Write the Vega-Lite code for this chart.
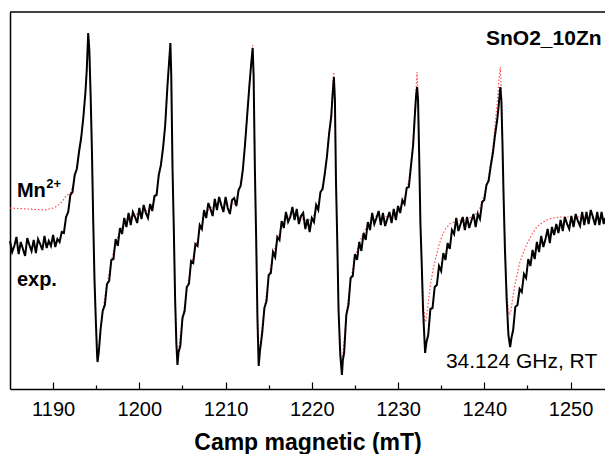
{
"$schema": "https://vega.github.io/schema/vega-lite/v6.json",
"width": 595, "height": 377,
"autosize": {"type": "none"},
"padding": {"left": 10, "top": 12, "right": 0, "bottom": 65},
"config": {"view": {"stroke": null}, "font": "Liberation Sans", "axis": {"grid": false}},
"datasets": {
"exp": [
{"B":1185,"I":-26},{"B":1185.25,"I":-37},{"B":1185.5,"I":-31},{"B":1185.75,"I":-22},{"B":1186,"I":-39},{"B":1186.25,"I":-27},{"B":1186.5,"I":-34},{"B":1186.75,"I":-41},{"B":1187,"I":-23},{"B":1187.25,"I":-30},{"B":1187.5,"I":-36},{"B":1187.75,"I":-25},{"B":1188,"I":-38},{"B":1188.25,"I":-24},{"B":1188.5,"I":-29},{"B":1188.75,"I":-35},{"B":1189,"I":-21},{"B":1189.25,"I":-33},{"B":1189.5,"I":-26},{"B":1189.75,"I":-31},{"B":1190,"I":-20},{"B":1190.25,"I":-32},{"B":1190.5,"I":-24},{"B":1190.75,"I":-27},{"B":1191,"I":-17},{"B":1191.25,"I":-18},{"B":1191.5,"I":-2},{"B":1191.75,"I":3},{"B":1192,"I":20},{"B":1192.25,"I":23},{"B":1192.5,"I":40},{"B":1192.75,"I":46},{"B":1193,"I":63},{"B":1193.25,"I":77},{"B":1193.5,"I":97},{"B":1193.75,"I":123},{"B":1193.9,"I":145},{"B":1194.07,"I":182},{"B":1194.2,"I":165},{"B":1194.35,"I":120},{"B":1194.5,"I":65},{"B":1194.65,"I":-5},{"B":1194.8,"I":-65},{"B":1194.95,"I":-105},{"B":1195.1,"I":-140},{"B":1195.15,"I":-147},{"B":1195.3,"I":-137},{"B":1195.5,"I":-115},{"B":1195.75,"I":-96},{"B":1196,"I":-90},{"B":1196.25,"I":-69},{"B":1196.5,"I":-66},{"B":1196.75,"I":-45},{"B":1197,"I":-44},{"B":1197.25,"I":-24},{"B":1197.5,"I":-31},{"B":1197.75,"I":-13},{"B":1198,"I":-19},{"B":1198.25,"I":-3},{"B":1198.5,"I":-12},{"B":1198.75,"I":2},{"B":1199,"I":-10},{"B":1199.25,"I":3},{"B":1199.5,"I":-2},{"B":1199.75,"I":-8},{"B":1200,"I":7},{"B":1200.25,"I":-4},{"B":1200.5,"I":10},{"B":1200.75,"I":2},{"B":1201,"I":-3},{"B":1201.25,"I":11},{"B":1201.5,"I":4},{"B":1201.75,"I":19},{"B":1202,"I":20},{"B":1202.25,"I":40},{"B":1202.5,"I":50},{"B":1202.75,"I":67},{"B":1203,"I":90},{"B":1203.25,"I":128},{"B":1203.45,"I":153},{"B":1203.6,"I":172},{"B":1203.7,"I":140},{"B":1203.85,"I":45},{"B":1204,"I":-15},{"B":1204.15,"I":-85},{"B":1204.3,"I":-130},{"B":1204.42,"I":-150},{"B":1204.55,"I":-137},{"B":1204.75,"I":-131},{"B":1205,"I":-103},{"B":1205.25,"I":-96},{"B":1205.5,"I":-72},{"B":1205.75,"I":-69},{"B":1206,"I":-46},{"B":1206.25,"I":-48},{"B":1206.5,"I":-29},{"B":1206.75,"I":-31},{"B":1207,"I":-10},{"B":1207.25,"I":-14},{"B":1207.5,"I":5},{"B":1207.75,"I":-3},{"B":1208,"I":12},{"B":1208.25,"I":6},{"B":1208.5,"I":-1},{"B":1208.75,"I":16},{"B":1209,"I":5},{"B":1209.25,"I":18},{"B":1209.5,"I":10},{"B":1209.75,"I":3},{"B":1210,"I":18},{"B":1210.25,"I":7},{"B":1210.5,"I":1},{"B":1210.75,"I":15},{"B":1211,"I":17},{"B":1211.25,"I":9},{"B":1211.5,"I":25},{"B":1211.75,"I":29},{"B":1212,"I":45},{"B":1212.25,"I":70},{"B":1212.5,"I":99},{"B":1212.75,"I":128},{"B":1212.95,"I":149},{"B":1213.14,"I":167},{"B":1213.25,"I":140},{"B":1213.4,"I":45},{"B":1213.55,"I":-25},{"B":1213.7,"I":-105},{"B":1213.84,"I":-151},{"B":1214,"I":-135},{"B":1214.25,"I":-118},{"B":1214.5,"I":-93},{"B":1214.75,"I":-86},{"B":1215,"I":-60},{"B":1215.25,"I":-58},{"B":1215.5,"I":-37},{"B":1215.75,"I":-42},{"B":1216,"I":-22},{"B":1216.25,"I":-25},{"B":1216.5,"I":-6},{"B":1216.75,"I":-13},{"B":1217,"I":3},{"B":1217.25,"I":-7},{"B":1217.5,"I":-2},{"B":1217.75,"I":8},{"B":1218,"I":-5},{"B":1218.25,"I":6},{"B":1218.5,"I":-9},{"B":1218.75,"I":-1},{"B":1219,"I":2},{"B":1219.25,"I":-14},{"B":1219.5,"I":-4},{"B":1219.75,"I":-17},{"B":1220,"I":-3},{"B":1220.25,"I":-7},{"B":1220.5,"I":10},{"B":1220.75,"I":5},{"B":1221,"I":23},{"B":1221.25,"I":26},{"B":1221.5,"I":41},{"B":1221.75,"I":58},{"B":1222,"I":81},{"B":1222.25,"I":98},{"B":1222.4,"I":119},{"B":1222.56,"I":138},{"B":1222.68,"I":115},{"B":1222.8,"I":35},{"B":1222.95,"I":-25},{"B":1223.1,"I":-95},{"B":1223.3,"I":-140},{"B":1223.49,"I":-160},{"B":1223.6,"I":-145},{"B":1223.75,"I":-138},{"B":1224,"I":-100},{"B":1224.25,"I":-90},{"B":1224.5,"I":-63},{"B":1224.75,"I":-61},{"B":1225,"I":-39},{"B":1225.25,"I":-45},{"B":1225.5,"I":-27},{"B":1225.75,"I":-36},{"B":1226,"I":-18},{"B":1226.25,"I":-25},{"B":1226.5,"I":-7},{"B":1226.75,"I":-15},{"B":1227,"I":2},{"B":1227.25,"I":-9},{"B":1227.5,"I":-3},{"B":1227.75,"I":4},{"B":1228,"I":-10},{"B":1228.25,"I":2},{"B":1228.5,"I":-11},{"B":1228.75,"I":-4},{"B":1229,"I":3},{"B":1229.25,"I":-8},{"B":1229.5,"I":6},{"B":1229.75,"I":-5},{"B":1230,"I":9},{"B":1230.25,"I":2},{"B":1230.5,"I":15},{"B":1230.75,"I":11},{"B":1231,"I":27},{"B":1231.25,"I":28},{"B":1231.5,"I":49},{"B":1231.75,"I":70},{"B":1231.95,"I":100},{"B":1232.1,"I":120},{"B":1232.21,"I":128},{"B":1232.32,"I":115},{"B":1232.45,"I":60},{"B":1232.6,"I":-10},{"B":1232.75,"I":-50},{"B":1232.9,"I":-95},{"B":1233.14,"I":-138},{"B":1233.3,"I":-127},{"B":1233.5,"I":-120},{"B":1233.75,"I":-94},{"B":1234,"I":-93},{"B":1234.25,"I":-72},{"B":1234.5,"I":-70},{"B":1234.75,"I":-51},{"B":1235,"I":-56},{"B":1235.25,"I":-38},{"B":1235.5,"I":-45},{"B":1235.75,"I":-28},{"B":1236,"I":-34},{"B":1236.25,"I":-15},{"B":1236.5,"I":-19},{"B":1236.75,"I":-3},{"B":1237,"I":-16},{"B":1237.25,"I":-9},{"B":1237.5,"I":-2},{"B":1237.75,"I":-15},{"B":1238,"I":-2},{"B":1238.25,"I":-13},{"B":1238.5,"I":-6},{"B":1238.75,"I":1},{"B":1239,"I":-12},{"B":1239.25,"I":1},{"B":1239.5,"I":-4},{"B":1239.75,"I":13},{"B":1240,"I":15},{"B":1240.25,"I":30},{"B":1240.5,"I":34},{"B":1240.75,"I":49},{"B":1241,"I":62},{"B":1241.25,"I":80},{"B":1241.5,"I":95},{"B":1241.7,"I":112},{"B":1241.86,"I":128},{"B":1241.98,"I":115},{"B":1242.1,"I":75},{"B":1242.25,"I":15},{"B":1242.4,"I":-35},{"B":1242.6,"I":-85},{"B":1242.8,"I":-120},{"B":1243,"I":-132},{"B":1243.15,"I":-123},{"B":1243.35,"I":-115},{"B":1243.6,"I":-92},{"B":1243.85,"I":-90},{"B":1244.1,"I":-74},{"B":1244.35,"I":-77},{"B":1244.6,"I":-59},{"B":1244.85,"I":-63},{"B":1245.1,"I":-44},{"B":1245.35,"I":-51},{"B":1245.6,"I":-35},{"B":1245.85,"I":-44},{"B":1246.1,"I":-27},{"B":1246.35,"I":-37},{"B":1246.6,"I":-21},{"B":1246.85,"I":-32},{"B":1247.1,"I":-24},{"B":1247.35,"I":-14},{"B":1247.6,"I":-28},{"B":1247.85,"I":-12},{"B":1248.1,"I":-20},{"B":1248.35,"I":-9},{"B":1248.6,"I":-18},{"B":1248.85,"I":-5},{"B":1249.1,"I":-16},{"B":1249.35,"I":-2},{"B":1249.6,"I":-9},{"B":1249.85,"I":-14},{"B":1250.1,"I":-1},{"B":1250.35,"I":-12},{"B":1250.6,"I":1},{"B":1250.85,"I":-6},{"B":1251.1,"I":-11},{"B":1251.35,"I":3},{"B":1251.6,"I":-10},{"B":1251.85,"I":3},{"B":1252.1,"I":-9},{"B":1252.35,"I":5},{"B":1252.6,"I":-2},{"B":1252.85,"I":-10},{"B":1253.1,"I":3},{"B":1253.35,"I":-10},{"B":1253.6,"I":3},{"B":1253.85,"I":-9},{"B":1254,"I":-3}
],
"sim": [
{"B":1185,"I":7},{"B":1187,"I":6},{"B":1189,"I":5},{"B":1190,"I":7},{"B":1190.5,"I":9},{"B":1191,"I":13},{"B":1191.5,"I":19},{"B":1192,"I":22},{"B":1192.25,"I":28},{"B":1192.5,"I":37},{"B":1192.75,"I":48},{"B":1193,"I":61},{"B":1193.25,"I":77},{"B":1193.5,"I":97},{"B":1193.75,"I":123},{"B":1193.9,"I":145},{"B":1194.07,"I":182},{"B":1194.2,"I":165},{"B":1194.35,"I":120},{"B":1194.5,"I":65},{"B":1194.65,"I":-5},{"B":1194.8,"I":-65},{"B":1194.95,"I":-105},{"B":1195.1,"I":-135},{"B":1195.2,"I":-138},{"B":1195.35,"I":-128},{"B":1195.5,"I":-112},{"B":1195.75,"I":-97},{"B":1196,"I":-82},{"B":1196.5,"I":-58},{"B":1197,"I":-36},{"B":1197.5,"I":-22},{"B":1198,"I":-12},{"B":1198.5,"I":-5},{"B":1199,"I":-2},{"B":1199.5,"I":0},{"B":1200,"I":2},{"B":1200.5,"I":3},{"B":1201,"I":5},{"B":1201.5,"I":9},{"B":1201.75,"I":14},{"B":1202,"I":23},{"B":1202.25,"I":37},{"B":1202.5,"I":52},{"B":1202.75,"I":67},{"B":1203,"I":90},{"B":1203.25,"I":128},{"B":1203.45,"I":153},{"B":1203.6,"I":172},{"B":1203.7,"I":140},{"B":1203.85,"I":45},{"B":1204,"I":-15},{"B":1204.15,"I":-85},{"B":1204.3,"I":-128},{"B":1204.45,"I":-142},{"B":1204.6,"I":-132},{"B":1204.75,"I":-121},{"B":1205,"I":-105},{"B":1205.5,"I":-76},{"B":1206,"I":-50},{"B":1206.5,"I":-33},{"B":1207,"I":-16},{"B":1207.5,"I":-3},{"B":1208,"I":5},{"B":1208.5,"I":9},{"B":1209,"I":11},{"B":1209.5,"I":11},{"B":1210,"I":10},{"B":1210.5,"I":10},{"B":1211,"I":11},{"B":1211.25,"I":15},{"B":1211.5,"I":22},{"B":1211.75,"I":33},{"B":1212,"I":46},{"B":1212.25,"I":71},{"B":1212.5,"I":100},{"B":1212.75,"I":130},{"B":1212.95,"I":152},{"B":1213.14,"I":170},{"B":1213.25,"I":140},{"B":1213.4,"I":45},{"B":1213.55,"I":-25},{"B":1213.7,"I":-105},{"B":1213.84,"I":-143},{"B":1214,"I":-132},{"B":1214.25,"I":-110},{"B":1214.5,"I":-94},{"B":1215,"I":-62},{"B":1215.5,"I":-40},{"B":1216,"I":-25},{"B":1216.5,"I":-12},{"B":1217,"I":-3},{"B":1217.5,"I":1},{"B":1218,"I":1},{"B":1218.5,"I":-2},{"B":1219,"I":-4},{"B":1219.5,"I":-6},{"B":1220,"I":-4},{"B":1220.5,"I":5},{"B":1221,"I":20},{"B":1221.5,"I":40},{"B":1221.75,"I":60},{"B":1222,"I":84},{"B":1222.25,"I":103},{"B":1222.4,"I":125},{"B":1222.56,"I":143},{"B":1222.68,"I":115},{"B":1222.8,"I":35},{"B":1222.95,"I":-25},{"B":1223.1,"I":-95},{"B":1223.3,"I":-132},{"B":1223.45,"I":-145},{"B":1223.6,"I":-138},{"B":1223.75,"I":-125},{"B":1224,"I":-100},{"B":1224.5,"I":-65},{"B":1225,"I":-43},{"B":1225.5,"I":-28},{"B":1226,"I":-18},{"B":1226.5,"I":-9},{"B":1227,"I":-3},{"B":1227.5,"I":-1},{"B":1228,"I":-1},{"B":1228.5,"I":-2},{"B":1229,"I":-1},{"B":1229.5,"I":1},{"B":1230,"I":4},{"B":1230.5,"I":11},{"B":1231,"I":25},{"B":1231.25,"I":34},{"B":1231.5,"I":52},{"B":1231.75,"I":75},{"B":1231.95,"I":105},{"B":1232.1,"I":128},{"B":1232.21,"I":143},{"B":1232.32,"I":118},{"B":1232.45,"I":60},{"B":1232.6,"I":-10},{"B":1232.75,"I":-50},{"B":1232.9,"I":-85},{"B":1233.1,"I":-105},{"B":1233.2,"I":-107},{"B":1233.4,"I":-95},{"B":1233.6,"I":-80},{"B":1233.85,"I":-65},{"B":1234.1,"I":-53},{"B":1234.4,"I":-42},{"B":1234.75,"I":-30},{"B":1235.1,"I":-21},{"B":1235.5,"I":-14},{"B":1236,"I":-9},{"B":1236.5,"I":-7},{"B":1237,"I":-6},{"B":1237.5,"I":-5},{"B":1238,"I":-4},{"B":1238.5,"I":-2},{"B":1239,"I":1},{"B":1239.5,"I":7},{"B":1240,"I":20},{"B":1240.25,"I":28},{"B":1240.5,"I":38},{"B":1240.75,"I":52},{"B":1241,"I":68},{"B":1241.25,"I":90},{"B":1241.5,"I":112},{"B":1241.7,"I":135},{"B":1241.86,"I":148},{"B":1241.98,"I":125},{"B":1242.1,"I":80},{"B":1242.25,"I":15},{"B":1242.4,"I":-35},{"B":1242.6,"I":-75},{"B":1242.8,"I":-96},{"B":1242.95,"I":-100},{"B":1243.1,"I":-95},{"B":1243.35,"I":-80},{"B":1243.6,"I":-68},{"B":1243.85,"I":-58},{"B":1244.1,"I":-48},{"B":1244.5,"I":-38},{"B":1245,"I":-28},{"B":1245.5,"I":-20},{"B":1246,"I":-13},{"B":1246.5,"I":-9},{"B":1247,"I":-6},{"B":1247.5,"I":-4},{"B":1248,"I":-3},{"B":1249,"I":-2},{"B":1250,"I":-2},{"B":1251,"I":-2},{"B":1252,"I":-3},{"B":1253,"I":-4},{"B":1254,"I":-5}
]
},
"layer": [
{"data": {"name": "sim"},
 "mark": {"type": "line", "color": "#ff4d4d", "strokeWidth": 1.2, "strokeDash": [1.5, 2]},
 "encoding": {
  "x": {"field": "B", "type": "quantitative", "scale": {"domain": [1185, 1254], "nice": false, "zero": false},
   "axis": {"title": "Camp magnetic (mT)", "titleFontSize": 23, "titleFontWeight": "bold", "titleColor": "black", "titlePadding": 9,
    "values": [1190,1195,1200,1205,1210,1215,1220,1225,1230,1235,1240,1245,1250],
    "format": "d",
    "labelExpr": "datum.value % 10 === 0 ? datum.label : ''",
    "labelFontSize": 20, "labelColor": "black", "labelPadding": 17, "labelFlush": false, "labelOverlap": false,
    "domainColor": "black", "domainWidth": 1.5, "tickColor": "black", "tickWidth": 1.2,
    "tickSize": {"condition": {"test": "datum.value % 10 === 0", "value": -7}, "value": -4}}},
  "y": {"field": "I", "type": "quantitative", "scale": {"domain": [-174, 203], "nice": false, "zero": false},
   "axis": {"title": null, "labels": false, "ticks": false, "domainColor": "black", "domainWidth": 1.5}}
 }},
{"data": {"name": "exp"},
 "mark": {"type": "line", "color": "black", "strokeWidth": 2},
 "encoding": {"x": {"field": "B", "type": "quantitative"}, "y": {"field": "I", "type": "quantitative"}}},
{"data": {"values": [{}]}, "mark": {"type": "rule", "color": "black", "strokeWidth": 1.5}, "encoding": {"y": {"datum": 203}}},
{"data": {"values": [{"t": "SnO2_10Zn"}]}, "mark": {"type": "text", "align": "right", "baseline": "alphabetic", "fontSize": 21, "fontWeight": "bold", "color": "black"},
 "encoding": {"x": {"datum": 1253.6}, "y": {"datum": 170}, "text": {"field": "t"}}},
{"data": {"values": [{"t": "Mn"}]}, "mark": {"type": "text", "align": "left", "baseline": "alphabetic", "fontSize": 20, "fontWeight": "bold", "color": "black"},
 "encoding": {"x": {"datum": 1185.8}, "y": {"datum": 18}, "text": {"field": "t"}}},
{"data": {"values": [{"t": "2+"}]}, "mark": {"type": "text", "align": "left", "baseline": "alphabetic", "fontSize": 13, "fontWeight": "bold", "color": "black"},
 "encoding": {"x": {"datum": 1189.2}, "y": {"datum": 27}, "text": {"field": "t"}}},
{"data": {"values": [{"t": "exp."}]}, "mark": {"type": "text", "align": "left", "baseline": "alphabetic", "fontSize": 20, "fontWeight": "bold", "color": "black"},
 "encoding": {"x": {"datum": 1185.8}, "y": {"datum": -71}, "text": {"field": "t"}}},
{"data": {"values": [{"t": "34.124 GHz, RT"}]}, "mark": {"type": "text", "align": "right", "baseline": "alphabetic", "fontSize": 21, "color": "black"},
 "encoding": {"x": {"datum": 1253.1}, "y": {"datum": -153}, "text": {"field": "t"}}}
]
}
